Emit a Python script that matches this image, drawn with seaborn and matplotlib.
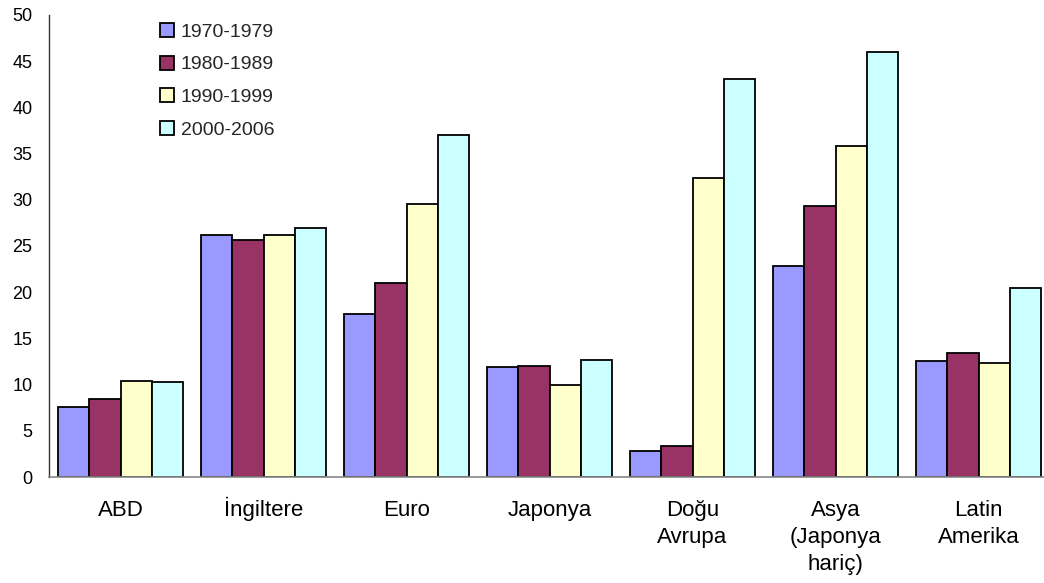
import matplotlib
matplotlib.use("Agg")
import matplotlib.pyplot as plt
import matplotlib.transforms as mtransforms
import seaborn as sns
import pandas as pd

regions = ["ABD", "İngiltere", "Euro", "Japonya", "Doğu\nAvrupa",
           "Asya\n(Japonya\nhariç)", "Latin\nAmerika"]
periods = ["1970-1979", "1980-1989", "1990-1999", "2000-2006"]

v_1970s = [7.6, 26.2, 17.6, 11.9, 2.85, 22.8, 12.6]
v_1980s = [8.4, 25.6, 21.0, 12.05, 3.4, 29.3, 13.4]
v_1990s = [10.4, 26.2, 29.5, 10.0, 32.4, 35.8, 12.3]
v_2000s = [10.3, 27.0, 37.0, 12.7, 43.1, 46.0, 20.5]

colors = ["#9999FF", "#993366", "#FFFFCC", "#CCFFFF"]

rows = []
for period, vals in zip(periods, [v_1970s, v_1980s, v_1990s, v_2000s]):
    for region, v in zip(regions, vals):
        rows.append({"region": region, "period": period, "value": v})
df = pd.DataFrame(rows)

sns.set_theme(style="white")
plt.rcParams["font.family"] = ["Liberation Sans", "DejaVu Sans"]

fig = plt.figure(figsize=(10.44, 5.83), dpi=100)
ax = fig.add_axes([49 / 1044, (583 - 477) / 583, 1001 / 1044, 462 / 583])

sns.barplot(data=df, x="region", y="value", hue="period", order=regions,
            hue_order=periods, palette=colors, saturation=1, width=0.875,
            gap=0, edgecolor="black", linewidth=1.3, ax=ax)

ax.set_ylim(0, 50)
ax.set_yticks(range(0, 51, 5))
ax.set_xlim(-0.5, len(regions) - 0.5)
ax.set_xlabel("")
ax.set_ylabel("")

for s in ["top", "right"]:
    ax.spines[s].set_visible(False)
ax.spines["left"].set_color("#333333")
ax.spines["left"].set_linewidth(1.0)
ax.spines["bottom"].set_color("#888888")
ax.spines["bottom"].set_linewidth(1.2)

ax.tick_params(axis="y", length=0, pad=12, labelsize=13, colors="black")
ax.tick_params(axis="x", length=0)
ax.set_xticklabels([])

# category names: one baseline per line, evenly spaced under the axis
first_baseline_px = 39
line_step_px = 27
for i, name in enumerate(regions):
    for j, line in enumerate(name.split("\n")):
        off = mtransforms.ScaledTranslation(
            0, -(first_baseline_px + j * line_step_px) / fig.dpi,
            fig.dpi_scale_trans)
        ax.text(i, 0, line, transform=ax.get_xaxis_transform() + off,
                ha="center", va="baseline", fontsize=16, color="black")

leg = ax.legend(loc="upper left", bbox_to_anchor=(160 / 1044, 1 - 23 / 583),
                bbox_transform=fig.transFigure, frameon=False, fontsize=14,
                handlelength=0.72, handleheight=0.72, handletextpad=0.36,
                labelspacing=0.77, borderpad=0, borderaxespad=0)
for h in leg.legend_handles:
    h.set_edgecolor("black")
    h.set_linewidth(1.3)

fig.savefig("out.png", dpi=100)
